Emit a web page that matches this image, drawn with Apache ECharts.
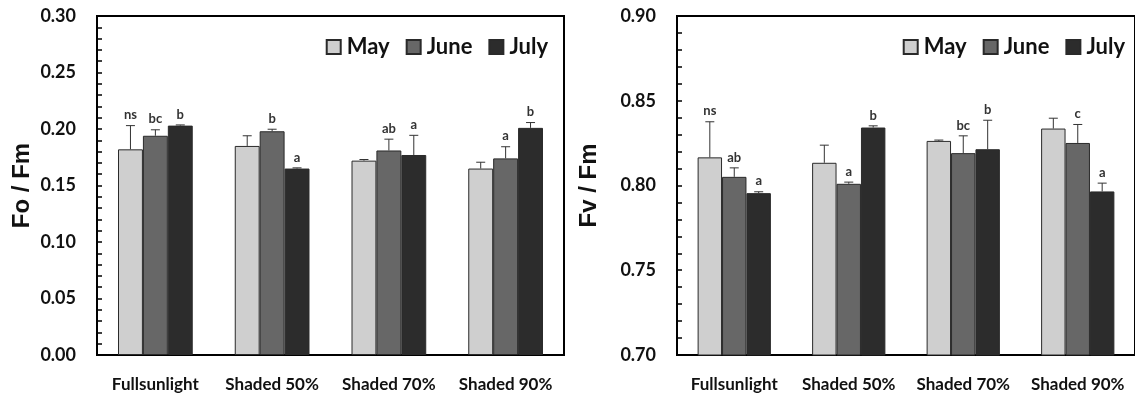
<!DOCTYPE html>
<html>
<head>
<meta charset="utf-8">
<script src="https://cdn.jsdelivr.net/npm/echarts@6/dist/echarts.min.js"></script>
<style>
  html, body { margin: 0; padding: 0; background: #fff; }
  #main { width: 1135px; height: 399px; }
</style>
</head>
<body>
<div id="main"></div>
<script>
// categories and months
var categories = ['Fullsunlight', 'Shaded 50%', 'Shaded 70%', 'Shaded 90%'];
var months = ['May', 'June', 'July'];

// Fo / Fm (left panel): means, error (upper only) and letters
var foMay = [0.182, 0.185, 0.172, 0.165];
var foJune = [0.194, 0.198, 0.181, 0.174];
var foJuly = [0.203, 0.165, 0.177, 0.201];
var foMayErr = [0.021, 0.009, 0.001, 0.0056];
var foJuneErr = [0.0053, 0.0018, 0.010, 0.0103];
var foJulyErr = [0.0006, 0.0006, 0.0174, 0.0047];
var foMayLbl = ['ns', '', '', ''];
var foJuneLbl = ['bc', 'b', 'ab', 'a'];
var foJulyLbl = ['b', 'a', 'a', 'b'];

// Fv / Fm (right panel)
var fvMay = [0.8166, 0.8134, 0.8263, 0.8336];
var fvJune = [0.8051, 0.801, 0.8191, 0.8251];
var fvJuly = [0.7955, 0.8342, 0.8214, 0.7965];
var fvMayErr = [0.021, 0.0104, 0.0005, 0.0061];
var fvJuneErr = [0.0053, 0.001, 0.0102, 0.0109];
var fvJulyErr = [0.0008, 0.001, 0.0171, 0.0049];
var fvMayLbl = ['ns', '', '', ''];
var fvJuneLbl = ['ab', 'a', 'bc', 'c'];
var fvJulyLbl = ['a', 'b', 'b', 'a'];

var barColors = ['#cfcfcf', '#676767', '#2c2c2c'];
var catGap = 0.36;

var chart = echarts.init(document.getElementById('main'));

function barSeries(name, k, vals, gi) {
    return {
        name: name,
        type: 'bar',
        xAxisIndex: gi,
        yAxisIndex: gi,
        barGap: '0%',
        barCategoryGap: (catGap * 100) + '%',
        itemStyle: { color: barColors[k], borderColor: '#2a2a2a', borderWidth: 1 },
        data: vals
    };
}

// error bar + letter drawn above each bar
function errSeries(k, vals, errs, lbls, gi) {
    return {
        type: 'custom',
        xAxisIndex: gi,
        yAxisIndex: gi,
        z: 5,
        data: vals.map(function (v, i) { return [i, v, v + errs[i]]; }),
        encode: { x: 0, y: [1, 2] },
        renderItem: function (params, api) {
            var i = api.value(0);
            var p0 = api.coord([i, api.value(1)]);
            var p1 = api.coord([i, api.value(2)]);
            var band = api.size([1, 0])[0];
            var bw = band * (1 - catGap) / 3;
            var cx = p0[0] + (k - 1) * bw;
            var cap = 4.5;
            var st = { stroke: '#333', lineWidth: 1 };
            var children = [
                { type: 'line', shape: { x1: cx, y1: p0[1], x2: cx, y2: p1[1] }, style: st },
                { type: 'line', shape: { x1: cx - cap, y1: p1[1], x2: cx + cap, y2: p1[1] }, style: st }
            ];
            var t = lbls[params.dataIndex];
            if (t) {
                children.push({
                    type: 'text',
                    style: {
                        text: t, x: cx, y: p1[1] - 4,
                        align: 'center', verticalAlign: 'bottom',
                        fill: '#333', font: 'bold 13px Lato'
                    }
                });
            }
            return { type: 'group', children: children };
        }
    };
}

function yAxis(gi, name, min, max, gap) {
    return {
        type: 'value',
        gridIndex: gi,
        min: min,
        max: max,
        interval: 0.05,
        name: name,
        nameLocation: 'middle',
        nameGap: gap,
        nameTextStyle: { fontFamily: 'Liberation Sans', fontWeight: 'bold', fontSize: 24, color: '#111' },
        axisLine: { show: true, lineStyle: { color: '#000', width: 2 } },
        axisTick: { show: true, inside: true, length: 5, lineStyle: { color: '#000', width: 1.5 } },
        minorTick: { show: true, splitNumber: 5, length: 5, lineStyle: { color: '#000', width: 1.5 } },
        splitLine: { show: false },
        axisLabel: {
            margin: 21,
            fontFamily: 'Lato', fontWeight: 'bold', fontSize: 18, color: '#111',
            formatter: function (v) { return v.toFixed(2); }
        }
    };
}

function xAxis(gi) {
    return {
        type: 'category',
        gridIndex: gi,
        data: categories,
        axisLine: { lineStyle: { color: '#000', width: 2 } },
        axisTick: { show: false },
        axisLabel: {
            interval: 0, hideOverlap: false, margin: 21,
            fontFamily: 'Lato', fontWeight: 'bold', fontSize: 17, color: '#111'
        }
    };
}

function legend(right) {
    return {
        data: months,
        right: right,
        top: 31,
        itemWidth: 14,
        itemHeight: 14,
        itemGap: 16,
        icon: 'rect',
        selectedMode: false,
        textStyle: { fontFamily: 'Lato', fontWeight: 'bold', fontSize: 22, color: '#111', padding: [0, 0, 0, 1] }
    };
}

chart.setOption({
    backgroundColor: '#fff',
    animation: false,
    grid: [
        { left: 97, top: 16, width: 467, bottom: 44, show: true, borderColor: '#000', borderWidth: 2 },
        { left: 677, top: 16, width: 462, bottom: 44, show: true, borderColor: '#000', borderWidth: 2 }
    ],
    legend: [legend(582), legend(5)],
    xAxis: [xAxis(0), xAxis(1)],
    yAxis: [yAxis(0, 'Fo / Fm', 0, 0.3, 63), yAxis(1, 'Fv / Fm', 0.7, 0.9, 76)],
    series: [
        barSeries('May', 0, foMay, 0),
        barSeries('June', 1, foJune, 0),
        barSeries('July', 2, foJuly, 0),
        barSeries('May', 0, fvMay, 1),
        barSeries('June', 1, fvJune, 1),
        barSeries('July', 2, fvJuly, 1),
        errSeries(0, foMay, foMayErr, foMayLbl, 0),
        errSeries(1, foJune, foJuneErr, foJuneLbl, 0),
        errSeries(2, foJuly, foJulyErr, foJulyLbl, 0),
        errSeries(0, fvMay, fvMayErr, fvMayLbl, 1),
        errSeries(1, fvJune, fvJuneErr, fvJuneLbl, 1),
        errSeries(2, fvJuly, fvJulyErr, fvJulyLbl, 1)
    ]
});
</script>
</body>
</html>
